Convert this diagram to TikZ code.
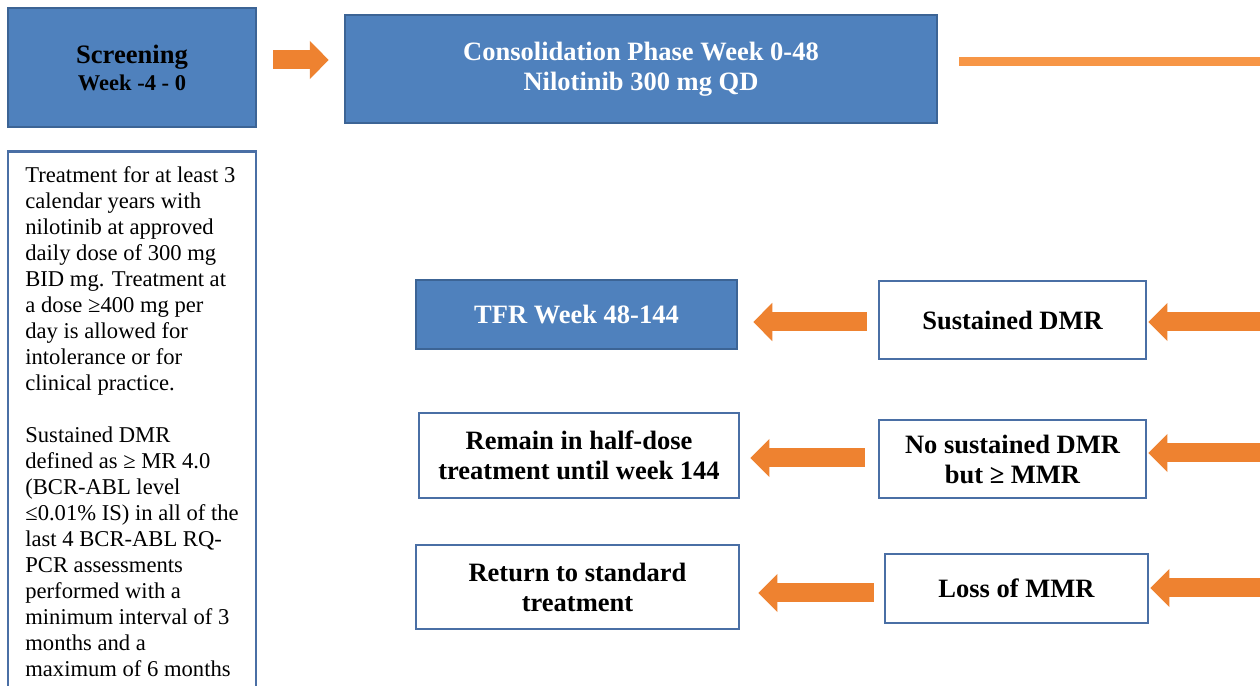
\documentclass[tikz,border=0pt]{standalone}
\usepackage{fontspec}
\setmainfont{Liberation Serif}
\usetikzlibrary{arrows.meta}
\definecolor{boxblue}{HTML}{4F81BD}
\definecolor{edgeblue}{HTML}{3C6495}
\definecolor{wedge}{HTML}{4A6FA5}
\definecolor{arroworange}{HTML}{EE8230}
\definecolor{lineorange}{HTML}{F79646}
\begin{document}
\begin{tikzpicture}[x=1pt,y=1pt,
  bluebox/.style={draw=edgeblue,line width=2.5pt,fill=boxblue,align=center,inner sep=0pt,font=\bfseries\fontsize{26.5}{30}\selectfont},
  whitebox/.style={draw=wedge,line width=2.8pt,fill=white,align=center,inner sep=0pt,font=\bfseries\fontsize{26.5}{30}\selectfont},
  blockarrow/.style={draw=arroworange,line width=19pt,-{Triangle[length=19pt,width=37pt]}},
]
\clip (0,0) rectangle (1260,685);
\fill[white] (0,0) rectangle (1260,685);
% nodes
\node[bluebox,minimum width=248,minimum height=119] (scr) at (132,617.5)
  {\fontsize{26.6}{28}\selectfont Screening\\[-3pt]\fontsize{22.5}{24}\selectfont Week -4 - 0};
\node[bluebox,text=white,minimum width=592,minimum height=108] (cons) at (641,616)
  {Consolidation Phase Week 0-48\\Nilotinib 300 mg QD};
\node[draw=wedge,line width=2.8pt,fill=white,anchor=north,minimum width=248,inner xsep=0pt,inner ysep=15.5pt,align=left,
  font=\fontsize{22.6}{26}\selectfont] (crit) at (132,535)
  {Treatment for at least 3\\calendar years with\\nilotinib at approved\\daily dose of 300 mg\\BID mg. Treatment at\\a dose ≥400 mg per\\day is allowed for\\intolerance or for\\clinical practice.\\[26pt]Sustained DMR\\defined as ≥ MR 4.0\\(BCR-ABL level\\≤0.01\% IS) in all of the\\last 4 BCR-ABL RQ-\\PCR assessments\\performed with a\\minimum interval of 3\\months and a\\maximum of 6 months};
\node[bluebox,text=white,minimum width=321,minimum height=69] (tfr) at (576.5,370.5) {TFR Week 48-144};
\node[whitebox,minimum width=267,minimum height=78] (sd) at (1012.5,365) {Sustained DMR};
\node[whitebox,minimum width=267,minimum height=78] (nsd) at (1012.5,226) {No sustained DMR\\but ≥ MMR};
\node[whitebox,minimum width=263,minimum height=69] (loss) at (1016.5,96.5) {Loss of MMR};
\node[whitebox,minimum width=320,minimum height=85] (rem) at (579,229.5) {Remain in half-dose\\treatment until week 144};
\node[whitebox,minimum width=323,minimum height=84] (ret) at (577.5,98) {Return to standard\\treatment};
% free ends at the right edge
\coordinate (e0) at (1275,623);
\coordinate (e1) at (1275,363);
\coordinate (e2) at (1275,232);
\coordinate (e3) at (1275,97);
\coordinate (y0) at (0,625);
\coordinate (y1) at (0,363);
\coordinate (y2) at (0,227);
\coordinate (y3) at (0,92);
% connectors
\draw[blockarrow,shorten <=16pt,shorten >=15pt] (scr.east |- y0) -- (cons.west |- y0);
\draw[lineorange,line width=9pt,shorten <=21pt] (cons.east |- e0) -- (e0);
\draw[blockarrow,shorten <=11pt,shorten >=15pt] (sd.west |- y1) -- (tfr.east |- y1);
\draw[blockarrow,shorten <=13pt,shorten >=10pt] (nsd.west |- y2) -- (rem.east |- y2);
\draw[blockarrow,shorten <=10pt,shorten >=18pt] (loss.west |- y3) -- (ret.east |- y3);
\draw[blockarrow,shorten >=1pt] (e1) -- (sd.east |- e1);
\draw[blockarrow,shorten >=1pt] (e2) -- (nsd.east |- e2);
\draw[blockarrow,shorten >=1pt] (e3) -- (loss.east |- e3);
\end{tikzpicture}
\end{document}
